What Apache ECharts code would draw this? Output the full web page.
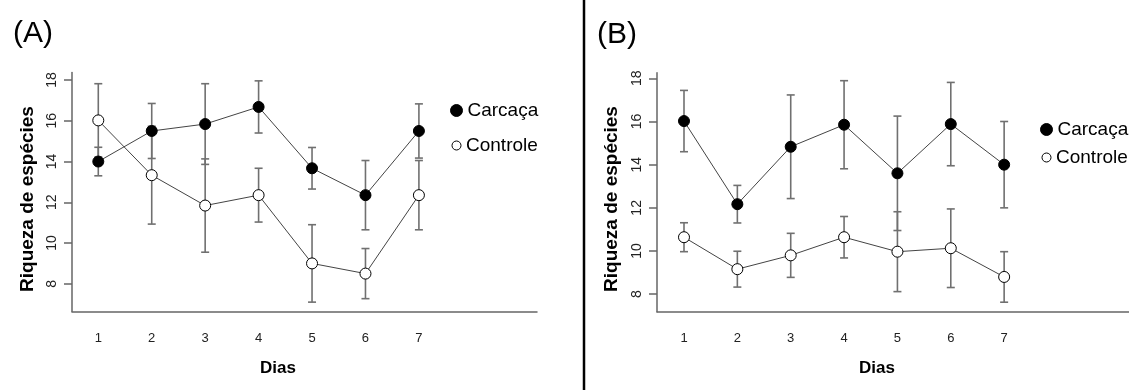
<!DOCTYPE html>
<html>
<head>
<meta charset="utf-8">
<script src="https://cdn.jsdelivr.net/npm/echarts@6/dist/echarts.min.js"></script>
<style>html,body{margin:0;padding:0;background:#fff}#c{width:1129px;height:390px}</style>
</head>
<body>
<div id="c"></div>
<script>
const days = [1, 2, 3, 4, 5, 6, 7];
const yTicks = [8, 10, 12, 14, 16, 18];
const carcacaA = [14.0, 15.5, 15.84, 16.68, 13.67, 12.35, 15.5];
const carcacaAErr = [0.7, 1.35, 1.98, 1.28, 1.02, 1.7, 1.33];
const controleA = [16.02, 13.33, 11.84, 12.35, 9.0, 8.5, 12.35];
const controleAErr = [1.8, 2.4, 2.29, 1.32, 1.9, 1.23, 1.7];
const carcacaB = [16.02, 12.17, 14.83, 15.85, 13.6, 15.88, 14.0];
const carcacaBErr = [1.42, 0.87, 2.4, 2.04, 2.65, 1.93, 2.0];
const controleB = [10.64, 9.16, 9.8, 10.64, 9.97, 10.13, 8.8];
const controleBErr = [0.67, 0.83, 1.02, 0.96, 1.85, 1.82, 1.17];

const FONT = "'Liberation Sans', Arial, sans-serif";
const AXIS_COLOR = '#666';

function pts(vals) { return days.map((d, i) => [d, vals[i]]); }
function errs(vals, e) { return days.map((d, i) => [d, vals[i] - e[i], vals[i] + e[i]]); }

function errSeries(idx, vals, e) {
  return {
    type: 'custom', xAxisIndex: idx, yAxisIndex: idx, z: 3, silent: true,
    data: errs(vals, e),
    renderItem: function (params, api) {
      const x = api.value(0);
      const lo = api.coord([x, api.value(1)]);
      const hi = api.coord([x, api.value(2)]);
      const w = 4;
      const st = { stroke: '#707070', lineWidth: 1.6 };
      return {
        type: 'group',
        children: [
          { type: 'line', shape: { x1: lo[0], y1: lo[1], x2: hi[0], y2: hi[1] }, style: st },
          { type: 'line', shape: { x1: hi[0] - w, y1: hi[1], x2: hi[0] + w, y2: hi[1] }, style: st },
          { type: 'line', shape: { x1: lo[0] - w, y1: lo[1], x2: lo[0] + w, y2: lo[1] }, style: st }
        ]
      };
    }
  };
}
function lineSeries(idx, vals, nm) {
  return {
    type: 'line', name: nm, xAxisIndex: idx, yAxisIndex: idx, z: 2, silent: true,
    data: pts(vals), showSymbol: false, symbol: 'none',
    lineStyle: { color: '#444', width: 1 }
  };
}
const FILLED = { color: '#000', borderColor: '#000', borderWidth: 1, opacity: 1 };
const OPEN = { color: '#fff', borderColor: '#000', borderWidth: 1, opacity: 1 };
function pointSeries(idx, vals, nm, filled) {
  return {
    type: 'scatter', name: nm, xAxisIndex: idx, yAxisIndex: idx, z: 5,
    data: pts(vals), symbol: 'circle', symbolSize: 11,
    itemStyle: filled ? FILLED : OPEN
  };
}
function xAx(idx, min, max) {
  return {
    type: 'value', gridIndex: idx, min: min, max: max,
    axisLine: { show: true, onZero: false, lineStyle: { color: AXIS_COLOR, width: 1.5 } },
    axisTick: { show: false },
    splitLine: { show: false },
    axisLabel: { customValues: days, margin: 20, fontSize: 13, color: '#222', fontFamily: FONT }
  };
}
function yAx(idx, min, max) {
  return {
    type: 'value', gridIndex: idx, min: min, max: max,
    axisLine: { show: true, onZero: false, lineStyle: { color: AXIS_COLOR, width: 1.5 } },
    axisTick: { show: true, length: 8, customValues: yTicks, lineStyle: { color: AXIS_COLOR, width: 1.5 } },
    splitLine: { show: false },
    axisLabel: { customValues: yTicks, rotate: 90, margin: 13, fontSize: 14, color: '#222', fontFamily: FONT }
  };
}
function legendItem(left, top, name, size, filled) {
  return {
    left: left, top: top, orient: 'vertical', selectedMode: false,
    itemWidth: size, itemHeight: size,
    textStyle: { fontSize: 19, color: '#000', fontFamily: FONT },
    data: [{ name: name, icon: 'circle', itemStyle: filled ? FILLED : OPEN }]
  };
}
function txt(x, y, s, size, bold, rot) {
  return {
    type: 'text', x: x, y: y, rotation: rot || 0,
    style: { text: s, fontSize: size, fontWeight: bold ? 'bold' : 'normal', fontFamily: FONT,
             fill: '#000', align: 'center', verticalAlign: 'middle' }
  };
}

const chart = echarts.init(document.getElementById('c'));
chart.setOption({
  animation: false,
  backgroundColor: '#fff',
  grid: [
    { left: 72, top: 72.5, width: 465, height: 239 },
    { left: 657, top: 72.7, width: 472, height: 239 }
  ],
  xAxis: [xAx(0, 0.508, 9.21), xAx(1, 0.494, 9.34)],
  yAxis: [yAx(0, 6.64, 18.37), yAx(1, 7.19, 18.26)],
  legend: [
    legendItem(445, 96, 'Carcaça', 12, true),
    legendItem(446.5, 131, 'Controle', 9, false),
    legendItem(1035, 115, 'Carcaça', 12, true),
    legendItem(1036.5, 143, 'Controle', 9, false)
  ],
  graphic: [
    { type: 'line', shape: { x1: 584, y1: 0, x2: 584, y2: 390 }, style: { stroke: '#000', lineWidth: 2.5 } },
    txt(33, 34, '(A)', 30, false),
    txt(617, 35, '(B)', 30, false),
    txt(28, 199, 'Riqueza de espécies', 19, true, Math.PI / 2),
    txt(612, 199, 'Riqueza de espécies', 19, true, Math.PI / 2),
    txt(278, 368, 'Dias', 17, true),
    txt(877, 368, 'Dias', 17, true)
  ],
  series: [
    lineSeries(0, carcacaA, 'lA1'), lineSeries(0, controleA, 'lA2'),
    errSeries(0, carcacaA, carcacaAErr), errSeries(0, controleA, controleAErr),
    pointSeries(0, carcacaA, 'Carcaça', true), pointSeries(0, controleA, 'Controle', false),
    lineSeries(1, carcacaB, 'lB1'), lineSeries(1, controleB, 'lB2'),
    errSeries(1, carcacaB, carcacaBErr), errSeries(1, controleB, controleBErr),
    pointSeries(1, carcacaB, 'Carcaça', true), pointSeries(1, controleB, 'Controle', false)
  ]
});
</script>
</body>
</html>
